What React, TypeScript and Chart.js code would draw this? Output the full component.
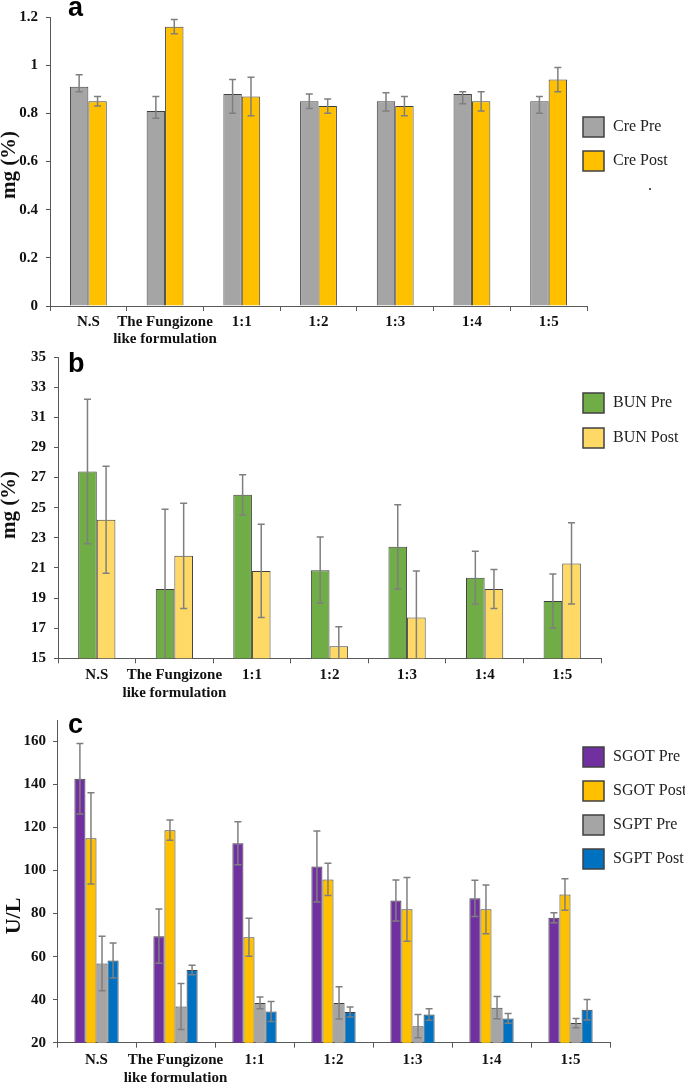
import React, { useEffect, useRef } from "react";
import { Chart, registerables } from "chart.js";

Chart.register(...registerables);

// ---------- data ----------
const categories: (string | string[])[] = [
  "N.S",
  ["The Fungizone", "like formulation"],
  "1:1",
  "1:2",
  "1:3",
  "1:4",
  "1:5",
];

// panel a (Creatinine)
const crePre = [0.91, 0.81, 0.88, 0.85, 0.85, 0.88, 0.85];
const crePreErrUp = [0.05, 0.06, 0.06, 0.03, 0.035, 0.01, 0.02];
const crePreErrDown = [0.02, 0.03, 0.08, 0.03, 0.04, 0.04, 0.05];
const crePost = [0.85, 1.16, 0.87, 0.83, 0.83, 0.85, 0.94];
const crePostErr = [0.02, 0.03, 0.08, 0.03, 0.04, 0.04, 0.05];
const creTicks = { min: 0, max: 1.2, step: 0.2 };

// panel b (BUN)
const bunPre = [27.4, 19.6, 25.85, 20.85, 22.4, 20.35, 18.8];
const bunPreErr = [4.8, 5.3, 1.33, 2.2, 2.8, 1.75, 1.8];
const bunPost = [24.2, 21.8, 20.8, 15.8, 17.7, 19.6, 21.3];
const bunPostErr = [3.55, 3.5, 3.1, 1.3, 3.1, 1.3, 2.7];
const bunTicks = { min: 15, max: 35, step: 2 };

// panel c (SGOT / SGPT)
const sgotPre = [142.7, 69.5, 112.7, 101.9, 86.1, 87.1, 78.1];
const sgotPreErr = [16.4, 12.6, 10, 16.5, 9.5, 8.4, 2.3];
const sgotPost = [115, 118.8, 69.0, 95.9, 82.0, 82.0, 88.9];
const sgotPostErr = [21.2, 4.7, 8.8, 7.5, 14.8, 11.3, 7.3];
const sgptPre = [56.8, 36.8, 38.5, 38.5, 27.7, 36.3, 29.1];
const sgptPreErr = [12.7, 10.7, 2.7, 7.5, 5.4, 5.2, 2.2];
const sgptPost = [58.2, 53.8, 34.5, 34.3, 33.1, 31.3, 35.3];
const sgptPostErr = [8.1, 2.2, 4.6, 2.3, 2.7, 2.3, 4.8];
const sgTicks = { min: 20, max: 170, step: 20 };

// ---------- styles ----------
const SERIF = "'Liberation Serif', 'Times New Roman', serif";
const SANS = "'Liberation Sans', Arial, sans-serif";
const AXIS = "#595959";
const BAR_BORDER = "#404040";

type DS = {
  label: string;
  data: number[];
  color: string;
  errUp: number[];
  errDown?: number[];
};

type PanelCfg = {
  top: number;
  height: number;
  yWidth: number;
  padRight: number;
  padTop: number;
  xHeight: number;
  ticks: { min: number; max: number; step: number };
  tickPad: number;
  catPct: number;
  xLineHeight: number;
  datasets: DS[];
  letter: string;
  letterY: number;
  yTitle: string;
  yTitleX: number;
  yTitleY: number;
  yTitleSize: number;
  legendTop: number;
  legendGap: number;
  dot?: boolean;
};

const Panel = ({ cfg }: { cfg: PanelCfg }) => {
  const ref = useRef<HTMLCanvasElement | null>(null);

  useEffect(() => {
    const canvas = ref.current;
    if (!canvas) return;

    const errorBars = {
      id: "errorBars",
      afterDatasetsDraw(chart: any) {
        const { ctx, chartArea } = chart;
        const yScale = chart.scales.y;
        ctx.save();
        ctx.beginPath();
        ctx.rect(chartArea.left, chartArea.top - 2, chartArea.right - chartArea.left, chartArea.bottom - chartArea.top + 2);
        ctx.clip();
        ctx.strokeStyle = "#7f7f7f";
        ctx.lineWidth = 1.5;
        cfg.datasets.forEach((ds, i) => {
          const meta = chart.getDatasetMeta(i);
          const up = ds.errUp;
          const down = ds.errDown || ds.errUp;
          meta.data.forEach((bar: any, j: number) => {
            const v = ds.data[j];
            const x = bar.x;
            const yT = yScale.getPixelForValue(v + up[j]);
            const yB = yScale.getPixelForValue(v - down[j]);
            ctx.beginPath();
            ctx.moveTo(x, yT);
            ctx.lineTo(x, yB);
            ctx.moveTo(x - 3.5, yT);
            ctx.lineTo(x + 3.5, yT);
            ctx.moveTo(x - 3.5, yB);
            ctx.lineTo(x + 3.5, yB);
            ctx.stroke();
          });
        });
        ctx.restore();
      },
    };

    const decorations = {
      id: "decorations",
      afterDraw(chart: any) {
        const { ctx } = chart;
        ctx.save();
        // panel letter
        ctx.fillStyle = "#000";
        ctx.font = `bold 27px ${SANS}`;
        ctx.textAlign = "left";
        ctx.textBaseline = "alphabetic";
        ctx.fillText(cfg.letter, 68, cfg.letterY);
        // y title
        ctx.save();
        ctx.translate(cfg.yTitleX, cfg.yTitleY);
        ctx.rotate(-Math.PI / 2);
        ctx.font = `bold ${cfg.yTitleSize}px ${SERIF}`;
        ctx.textAlign = "center";
        ctx.textBaseline = "alphabetic";
        ctx.fillStyle = "#111";
        ctx.fillText(cfg.yTitle, 0, 0);
        ctx.restore();
        // legend
        const lx = 583;
        chart.data.datasets.forEach((ds: any, i: number) => {
          const y = cfg.legendTop + i * cfg.legendGap;
          ctx.fillStyle = ds.backgroundColor;
          ctx.fillRect(lx, y, 21, 20);
          ctx.strokeStyle = BAR_BORDER;
          ctx.lineWidth = 1.5;
          ctx.strokeRect(lx, y, 21, 20);
          ctx.fillStyle = "#222";
          ctx.font = `16px ${SERIF}`;
          ctx.textAlign = "left";
          ctx.textBaseline = "middle";
          ctx.fillText(ds.label, lx + 30, y + 10);
        });
        if (cfg.dot) {
          ctx.fillStyle = "#222";
          ctx.font = `16px ${SERIF}`;
          ctx.textAlign = "left";
          ctx.textBaseline = "alphabetic";
          ctx.fillText(".", 648, 190);
        }
        ctx.restore();
      },
    };

    const chart = new Chart(canvas, {
      type: "bar",
      data: {
        labels: categories,
        datasets: cfg.datasets.map((d) => ({
          label: d.label,
          data: d.data,
          backgroundColor: d.color,
          borderColor: BAR_BORDER,
          borderWidth: 1,
          barPercentage: 1,
          categoryPercentage: cfg.catPct,
        })),
      },
      options: {
        animation: false,
        responsive: false,
        maintainAspectRatio: false,
        layout: {
          padding: { top: cfg.padTop, right: cfg.padRight, bottom: 0, left: 0 },
        },
        plugins: {
          legend: { display: false },
          tooltip: { enabled: false },
          title: { display: false },
        },
        scales: {
          x: {
            offset: true,
            afterFit: (scale: any) => {
              scale.height = cfg.xHeight;
            },
            grid: {
              offset: true,
              drawOnChartArea: false,
              drawTicks: true,
              tickLength: 5,
              color: AXIS,
            },
            border: { display: true, color: AXIS, width: 1 },
            ticks: {
              autoSkip: false,
              maxRotation: 0,
              minRotation: 0,
              padding: 3,
              color: "#111",
              font: { family: SERIF, size: 15, weight: "bold", lineHeight: cfg.xLineHeight },
            },
          },
          y: {
            min: cfg.ticks.min,
            max: cfg.ticks.max,
            afterFit: (scale: any) => {
              scale.width = cfg.yWidth;
            },
            grid: {
              drawOnChartArea: false,
              drawTicks: true,
              tickLength: 4,
              color: AXIS,
            },
            border: { display: true, color: AXIS, width: 1 },
            ticks: {
              stepSize: cfg.ticks.step,
              includeBounds: false,
              padding: cfg.tickPad,
              color: "#111",
              font: { family: SERIF, size: 15, weight: "bold" },
              callback: (v: any) => String(Number(Number(v).toFixed(2))),
            },
          },
        },
      },
      plugins: [errorBars, decorations],
    } as any);

    return () => chart.destroy();
  }, [cfg]);

  return (
    <canvas
      ref={ref}
      width={685}
      height={cfg.height}
      style={{
        position: "absolute",
        left: 0,
        top: cfg.top,
        width: 685,
        height: cfg.height,
      }}
    />
  );
};

const panelA: PanelCfg = {
  top: 0,
  height: 350,
  yWidth: 50,
  padRight: 98,
  padTop: 11,
  xHeight: 44,
  ticks: creTicks,
  tickPad: 8,
  catPct: 0.48,
  xLineHeight: 1.1,
  datasets: [
    { label: "Cre Pre", data: crePre, color: "#a5a5a5", errUp: crePreErrUp, errDown: crePreErrDown },
    { label: "Cre Post", data: crePost, color: "#ffc000", errUp: crePostErr },
  ],
  letter: "a",
  letterY: 16,
  yTitle: "mg (%)",
  yTitleX: 15,
  yTitleY: 165,
  yTitleSize: 21,
  legendTop: 117,
  legendGap: 34,
  dot: true,
};

const panelB: PanelCfg = {
  top: 340,
  height: 360,
  yWidth: 58,
  padRight: 84,
  padTop: 8.3,
  xHeight: 41.7,
  ticks: bunTicks,
  tickPad: 8,
  catPct: 0.48,
  xLineHeight: 1.2,
  datasets: [
    { label: "BUN Pre", data: bunPre, color: "#70ad47", errUp: bunPreErr },
    { label: "BUN Post", data: bunPost, color: "#ffd966", errUp: bunPostErr },
  ],
  letter: "b",
  letterY: 32,
  yTitle: "mg (%)",
  yTitleX: 15,
  yTitleY: 165,
  yTitleSize: 21,
  legendTop: 53,
  legendGap: 35,
};

const panelC: PanelCfg = {
  top: 700,
  height: 385,
  yWidth: 57,
  padRight: 75,
  padTop: 20,
  xHeight: 42.3,
  ticks: sgTicks,
  tickPad: 7,
  catPct: 0.56,
  xLineHeight: 1.2,
  datasets: [
    { label: "SGOT Pre", data: sgotPre, color: "#7030a0", errUp: sgotPreErr },
    { label: "SGOT Post", data: sgotPost, color: "#ffc000", errUp: sgotPostErr },
    { label: "SGPT Pre", data: sgptPre, color: "#a5a5a5", errUp: sgptPreErr },
    { label: "SGPT Post", data: sgptPost, color: "#0070c0", errUp: sgptPostErr },
  ],
  letter: "c",
  letterY: 33,
  yTitle: "U/L",
  yTitleX: 20,
  yTitleY: 216,
  yTitleSize: 22,
  legendTop: 47,
  legendGap: 34,
};

export default function App() {
  return (
    <div
      style={{
        position: "absolute",
        left: 0,
        top: 0,
        width: 685,
        height: 1085,
        background: "#fff",
        overflow: "hidden",
      }}
    >
      <Panel cfg={panelA} />
      <Panel cfg={panelB} />
      <Panel cfg={panelC} />
    </div>
  );
}
